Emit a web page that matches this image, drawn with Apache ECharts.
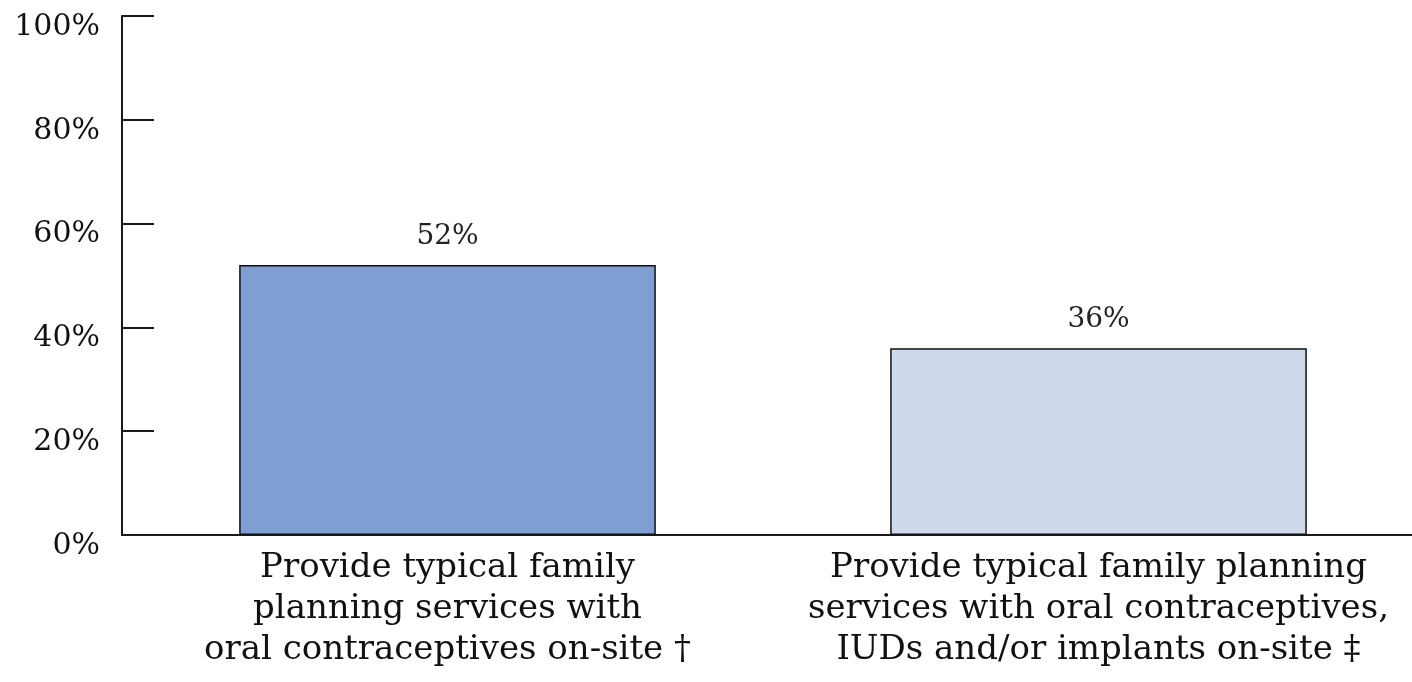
<!DOCTYPE html>
<html>
<head>
<meta charset="utf-8">
<script src="https://cdn.jsdelivr.net/npm/echarts@6/dist/echarts.min.js"></script>
<style>
html,body{margin:0;padding:0;background:#fff;}
#chart{width:1412px;height:682px;}
</style>
</head>
<body>
<div id="chart"></div>
<script>
const categories = [
  "Provide typical family\nplanning services with\noral contraceptives on-site \u2020",
  "Provide typical family planning\nservices with oral contraceptives,\nIUDs and/or implants on-site \u2021"
];
const values = [52, 36];
const barColors = ["#7f9fd3", "#cfd9ec"];
const yTicks = [0, 20, 40, 60, 80, 100];

const FONT = "DejaVu Serif";
const chart = echarts.init(document.getElementById('chart'));
chart.setOption({
  animation: false,
  grid: { left: 122, width: 1302, top: 16, height: 519, containLabel: false, outerBoundsMode: 'none' },
  xAxis: {
    type: 'category',
    data: categories,
    axisLine: { lineStyle: { color: '#1a1a1a', width: 2 } },
    axisTick: { show: false },
    axisLabel: {
      fontFamily: FONT, fontSize: 34, color: '#111', lineHeight: 41, margin: 13, interval: 0
    }
  },
  yAxis: {
    type: 'value',
    min: 0, max: 100, interval: 20,
    splitLine: { show: false },
    axisLine: { show: true, lineStyle: { color: '#1a1a1a', width: 2 } },
    axisTick: { show: true, inside: true, length: 32, lineStyle: { color: '#1a1a1a', width: 2 } },
    axisLabel: {
      fontFamily: FONT, fontSize: 30, color: '#111', margin: 22,
      verticalAlign: 'top', lineHeight: 22,
      formatter: v => yTicks.includes(v) ? v + '%' : ''
    }
  },
  series: [{
    type: 'bar',
    barWidth: '64%',
    data: values.map((v, i) => ({ value: v, itemStyle: { color: barColors[i] } })),
    itemStyle: { borderColor: '#111', borderWidth: 1.5 },
    label: {
      show: true, position: 'top', distance: 14,
      formatter: p => p.value + '%',
      fontFamily: FONT, fontSize: 28, color: '#222'
    }
  }]
});
</script>
</body>
</html>
